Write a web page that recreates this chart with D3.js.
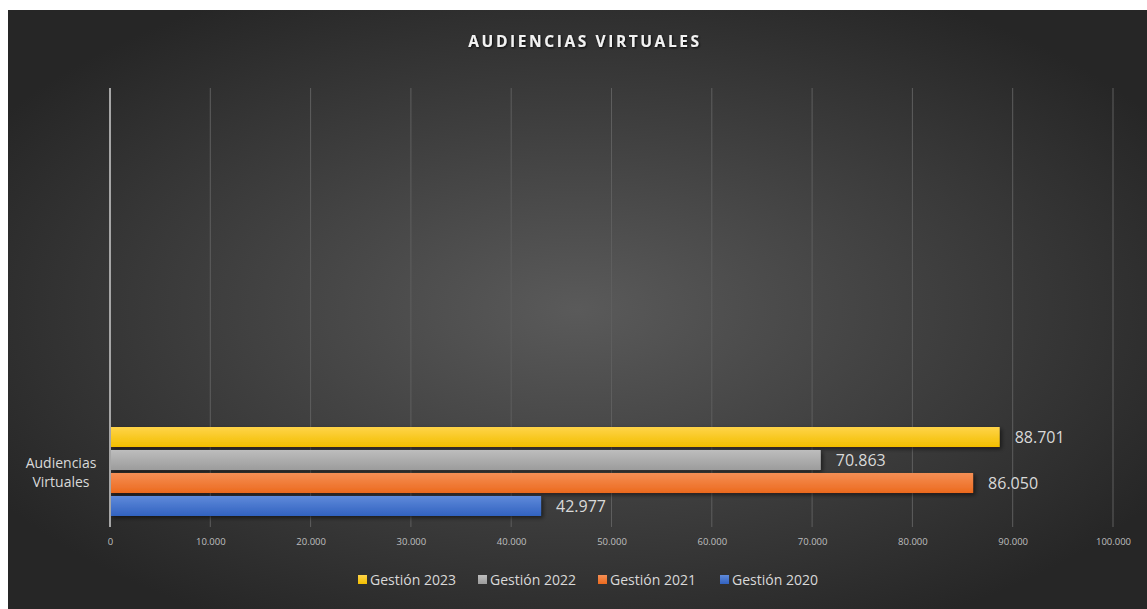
<!DOCTYPE html>
<html><head><meta charset="utf-8">
<script src="https://cdn.jsdelivr.net/npm/d3@7/dist/d3.min.js"></script>
<style>
html,body{margin:0;padding:0;background:#fff;}
svg{display:block;font-family:"Open Sans",Lato,sans-serif;}
</style></head>
<body><svg id="c" width="1147" height="609"></svg>
<script>
const categories = ["Audiencias Virtuales"];
const seriesNames = ["Gestión 2023","Gestión 2022","Gestión 2021","Gestión 2020"];
const values2023 = [88701];
const values2022 = [70863];
const values2021 = [86050];
const values2020 = [42977];
const xTicks = [0,10000,20000,30000,40000,50000,60000,70000,80000,90000,100000];
const seriesColors = [["#FFD449","#F2BE00"],["#BDBDBD","#9C9C9C"],["#F58F55","#EC6A1E"],["#5F8ADA","#3262C0"]];

const seriesValues = [values2023, values2022, values2021, values2020];
const svg = d3.select("#c");
const W = 1147, H = 609;
const defs = svg.append("defs");
const bg = defs.append("radialGradient").attr("id","bg").attr("cx","50%").attr("cy","50%").attr("r","60%");
bg.append("stop").attr("offset","0%").attr("stop-color","#5a5a5a");
bg.append("stop").attr("offset","100%").attr("stop-color","#262626");
seriesColors.forEach((c,i)=>{
  const g = defs.append("linearGradient").attr("id","g"+i).attr("x1",0).attr("y1",0).attr("x2",0).attr("y2",1);
  g.append("stop").attr("offset","0%").attr("stop-color",c[0]);
  g.append("stop").attr("offset","100%").attr("stop-color",c[1]);
});
const sh = defs.append("filter").attr("id","sh").attr("x","-5%").attr("y","-30%").attr("width","110%").attr("height","180%");
sh.append("feDropShadow").attr("dx",2).attr("dy",2).attr("stdDeviation",2).attr("flood-color","#000").attr("flood-opacity",0.55);
const tsh = defs.append("filter").attr("id","tsh");
tsh.append("feDropShadow").attr("dx",1).attr("dy",1).attr("stdDeviation",0.8).attr("flood-color","#000").attr("flood-opacity",0.8);

svg.append("rect").attr("x",8).attr("y",10).attr("width",W-8).attr("height",H-10).attr("fill","url(#bg)");

const pLeft = 110, pRight = 1113, pTop = 88, pBottom = 527;
const x = d3.scaleLinear().domain([0,100000]).range([pLeft,pRight]);
const y = d3.scaleBand().domain(categories).range([417,527]);
const ySub = d3.scaleBand().domain(seriesNames).range([y(categories[0])+10, y(categories[0])+y.bandwidth()-11]).paddingInner(0.13);

// gridlines
svg.append("g").selectAll("line").data(xTicks.slice(1)).join("line")
  .attr("x1",d=>x(d)).attr("x2",d=>x(d)).attr("y1",pTop).attr("y2",pBottom)
  .attr("stroke","#5e5e5e").attr("stroke-width",1);

// x axis labels
const fmt = d => d3.format(",")(d).replace(/,/g,".");
const xAxis = d3.axisBottom(x).tickValues(xTicks).tickSize(0).tickPadding(0).tickFormat(fmt);
const ax = svg.append("g").attr("transform",`translate(0,${pBottom+18})`).call(xAxis);
ax.select(".domain").remove();
ax.selectAll("text").attr("fill","#bfbfbf").attr("font-size","9.5px").attr("font-family","'Open Sans',sans-serif").attr("dy","0");

// bars
seriesNames.forEach((s,i)=>{
  const dd = categories.map((c,j)=>({c,v:seriesValues[i][j]}));
  svg.append("g").selectAll("rect").data(dd).join("rect")
    .attr("x",x(0)).attr("y",d=>y(d.c)+ (ySub(s)-y(categories[0])))
    .attr("width",d=>x(d.v)-x(0)).attr("height",ySub.bandwidth())
    .attr("fill",`url(#g${i})`).attr("filter","url(#sh)");
  svg.append("g").selectAll("text").data(dd).join("text")
    .attr("x",d=>x(d.v)+15).attr("y",d=>y(d.c)+(ySub(s)-y(categories[0]))+ySub.bandwidth()/2)
    .attr("dy","0.35em").attr("fill","#d9d9d9").attr("font-size","16px").text(d=>fmt(d.v));
});

// y axis line
svg.append("line").attr("x1",pLeft).attr("x2",pLeft).attr("y1",pTop).attr("y2",pBottom)
  .attr("stroke","#a6a6a6").attr("stroke-width",2);

// category label
categories.forEach(c=>{
  const t = svg.append("text").attr("x",61).attr("y",y(c)+y.bandwidth()/2).attr("text-anchor","middle")
    .attr("fill","#d9d9d9").attr("font-size","14px");
  const words = c.split(" ");
  t.append("tspan").attr("x",61).attr("dy","-0.3em").text(words[0]);
  t.append("tspan").attr("x",61).attr("dy","1.4em").text(words.slice(1).join(" "));
});

// title
svg.append("text").attr("x",585).attr("y",47).attr("text-anchor","middle")
  .attr("fill","#f2f2f2").attr("font-size","15.5px").attr("font-weight","bold")
  .attr("letter-spacing","2.6px").attr("filter","url(#tsh)").text("AUDIENCIAS VIRTUALES");

// legend
const legX = [358,478,598,720];
const lg = svg.append("g").selectAll("g").data(seriesNames).join("g")
  .attr("transform",(d,i)=>`translate(${legX[i]},580)`);
lg.append("rect").attr("x",0).attr("y",-5).attr("width",9).attr("height",9).attr("fill",(d,i)=>`url(#g${i})`);
lg.append("text").attr("x",12).attr("y",0).attr("dy","0.35em").attr("fill","#d9d9d9").attr("font-size","14px").text(d=>d);
</script></body></html>
